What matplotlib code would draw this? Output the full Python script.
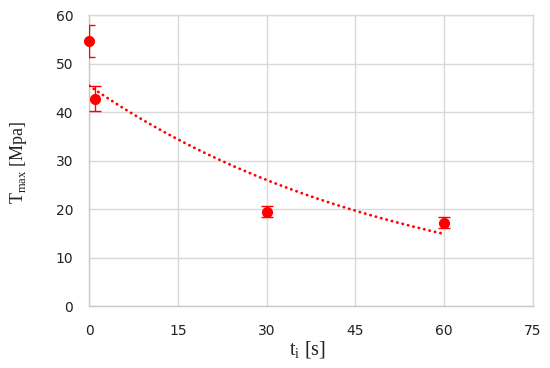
import numpy as np
import matplotlib
matplotlib.use("Agg")
import matplotlib.pyplot as plt

t_i = [0, 1, 30, 60]
t_max = [54.7, 42.8, 19.5, 17.2]
t_err = [3.3, 2.5, 1.1, 1.1]

x_ticks = [0, 15, 30, 45, 60, 75]
y_ticks = [0, 10, 20, 30, 40, 50, 60]

# exponential trendline fitted to the data (log-linear fit)
b, ln_a = np.polyfit(t_i, np.log(t_max), 1)
x_fit = np.linspace(min(t_i), max(t_i), 200)
y_fit = np.exp(ln_a) * np.exp(b * x_fit)

fig = plt.figure(figsize=(5.5, 3.68), dpi=100)
ax = fig.add_axes([0.162, 0.168, 0.807, 0.791])

grid_col = "#d9d9d9"
ax.set_xlim(0, 75)
ax.set_ylim(0, 60)
ax.set_xticks(x_ticks)
ax.set_yticks(y_ticks)
ax.grid(True, color=grid_col, linewidth=1.0)
ax.set_axisbelow(True)
for s in ax.spines.values():
    s.set_color(grid_col)
    s.set_linewidth(1.0)
ax.spines["left"].set_color("#c8c8c8")
ax.spines["bottom"].set_color("#c8c8c8")

ax.tick_params(length=0, labelsize=10, colors="#222222")
ax.tick_params(axis="x", pad=13)
ax.tick_params(axis="y", pad=11.5)

ax.plot(x_fit, y_fit, color="#ff0000", linewidth=2.0,
        linestyle=(0, (0.1, 1.9)), dash_capstyle="round", zorder=3)

# error bars are clipped at the axes, the markers are not
ax.errorbar(t_i, t_max, yerr=t_err, fmt="none", ecolor="#ff0000",
            elinewidth=1.0, capsize=4, capthick=1.0, zorder=4)
ax.plot(t_i, t_max, "o", color="#ff0000", markersize=7,
        clip_on=False, zorder=5)

serif = ["Liberation Serif", "DejaVu Serif"]
ax.set_xlabel("t$_\\mathregular{i}$ [s]", fontsize=14.5, family=serif,
              color="#222222", va="center")
ax.set_ylabel("T$_\\mathregular{max}$ [Mpa]", fontsize=13, family=serif,
              color="#222222", va="center")
ax.xaxis.set_label_coords(0.492, -0.148)
ax.yaxis.set_label_coords(-0.16, 0.495)

fig.savefig("out.png", dpi=100)
